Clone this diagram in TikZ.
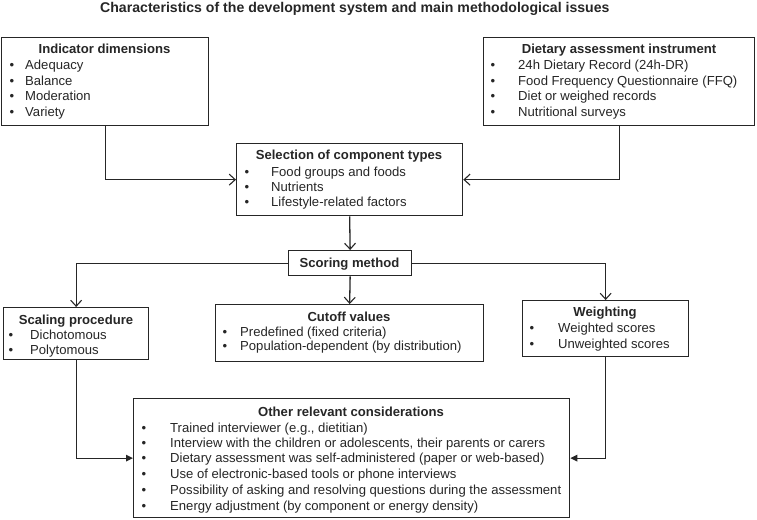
\documentclass[tikz,border=0pt]{standalone}
\usepackage{fontspec}
\setmainfont{Liberation Sans}
\usetikzlibrary{arrows.meta}
\definecolor{ink}{HTML}{262626}
\tikzset{
  box/.style={draw=ink, line width=1.3pt, fill=white, inner sep=0pt, anchor=north west},
  body/.style={font=\fontsize{13.1}{15.5}\selectfont, text=ink, inner sep=0pt, anchor=base west},
  head/.style={font=\fontsize{13.1}{15.5}\selectfont\bfseries, text=ink, inner sep=0pt, anchor=base},
  bul/.style={font=\fontsize{13.1}{15.5}\selectfont, text=ink, inner sep=0pt, anchor=base},
  conn/.style={draw=ink, line width=1.3pt},
  openarr/.style={conn, -{Straight Barb[length=6pt, width=11pt, line width=1.1pt]}},
  fillarr/.style={conn, -{Triangle[length=7pt, width=6.5pt]}},
}
\newcommand{\mkbox}[5]{% name, x1, y1, x2, y2
  \pgfmathsetmacro{\bw}{#4-#2}\pgfmathsetmacro{\bh}{#5-#3}
  \node[box, minimum width=\bw pt, minimum height=\bh pt] (#1) at (#2,#3) {};}
\begin{document}
\begin{tikzpicture}[x=1pt, y=-1pt]
\useasboundingbox (0,0) rectangle (757,519);
% title
\node[font=\fontsize{14.1}{16}\selectfont\bfseries, text=ink, inner sep=0pt, anchor=base west] (title) at (100,12.3) {Characteristics of the development system and main methodological issues};

% boxes
\mkbox{ind}{1}{37}{208}{125}
\mkbox{diet}{483}{37}{754}{125}
\mkbox{sel}{236}{143}{462}{215}
\mkbox{scor}{288}{250}{411}{275}
\mkbox{scal}{3}{307}{148}{359}
\mkbox{cut}{215}{304}{483}{361}
\mkbox{wt}{522}{300}{688}{356}
\mkbox{oth}{133}{398}{569}{517}

% Indicator dimensions
\node[head] (ind-t) at (104.5,53.7) {Indicator dimensions};
\foreach \y/\t [count=\i] in {65/Adequacy,81/Balance,96/Moderation,112/Variety}{
  \node[bul] (ind-b\i) at (12,\y+4.7) {\textbullet};
  \node[body] (ind-i\i) at (25,\y+4.7) {\t};
}
% Dietary assessment instrument
\node[head] (diet-t) at (619,53.7) {Dietary assessment instrument};
\foreach \y/\t [count=\i] in {65/24h Dietary Record (24h-DR),81/Food Frequency Questionnaire (FFQ),96/Diet or weighed records,112/Nutritional surveys}{
  \node[bul] (diet-b\i) at (493,\y+4.7) {\textbullet};
  \node[body] (diet-i\i) at (518,\y+4.7) {\t};
}
% Selection
\node[head] (sel-t) at (349,159.7) {Selection of component types};
\foreach \y/\t [count=\i] in {172/Food groups and foods,187/Nutrients,202/Lifestyle-related factors}{
  \node[bul] (sel-b\i) at (247,\y+4.7) {\textbullet};
  \node[body] (sel-i\i) at (271,\y+4.7) {\t};
}
% Scoring
\node[head] (scor-t) at (349.5,267.4) {Scoring method};
% Scaling
\node[head] (scal-t) at (76,324.7) {Scaling procedure};
\foreach \y/\t [count=\i] in {335/Dichotomous,350/Polytomous}{
  \node[bul] (scal-b\i) at (11,\y+4.7) {\textbullet};
  \node[body] (scal-i\i) at (30,\y+4.7) {\t};
}
% Cutoff
\node[head] (cut-t) at (349,321.7) {Cutoff values};
\foreach \y/\t [count=\i] in {332/Predefined (fixed criteria),346/Population-dependent (by distribution)}{
  \node[bul] (cut-b\i) at (225,\y+4.7) {\textbullet};
  \node[body] (cut-i\i) at (240,\y+4.7) {\t};
}
% Weighting
\node[head] (wt-t) at (605,316.7) {Weighting};
\foreach \y/\t [count=\i] in {328/Weighted scores,344/Unweighted scores}{
  \node[bul] (wt-b\i) at (532,\y+4.7) {\textbullet};
  \node[body] (wt-i\i) at (558,\y+4.7) {\t};
}
% Other
\node[head] (oth-t) at (351,416.7) {Other relevant considerations};
\foreach \y/\t [count=\i] in {428/{Trained interviewer (e.g., dietitian)},443/{Interview with the children or adolescents, their parents or carers},458/{Dietary assessment was self-administered (paper or web-based)},474/{Use of electronic-based tools or phone interviews},490/{Possibility of asking and resolving questions during the assessment},506/{Energy adjustment (by component or energy density)}}{
  \node[bul] (oth-b\i) at (144,\y+4.7) {\textbullet};
  \node[body] (oth-i\i) at (170,\y+4.7) {\t};
}

% connectors
\draw[openarr] (ind.south) |- (sel.west);
\draw[openarr] (diet.south) |- (sel.east);
\draw[openarr] (sel.south) -- (scor.north);
\draw[openarr] (scor.west) -| (scal.north);
\draw[openarr] (scor.south) -- (cut.north);
\draw[openarr] (scor.east) -| (wt.north);
\draw[fillarr] (scal.south) |- (oth.west);
\draw[fillarr] (wt.south) |- (oth.east);
\end{tikzpicture}
\end{document}
